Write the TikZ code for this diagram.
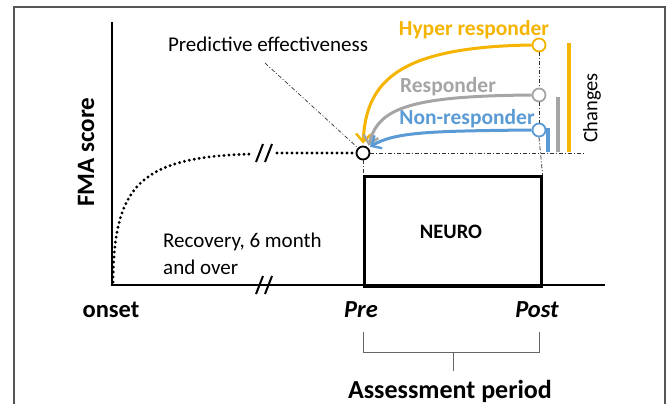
\documentclass[tikz,border=0pt]{standalone}
\usepackage{fontspec}
\setmainfont{Carlito}
\usetikzlibrary{arrows.meta}
\definecolor{hyperc}{HTML}{F5B400}
\definecolor{respc}{HTML}{A5A5A5}
\definecolor{nonc}{HTML}{5B9BD5}
\definecolor{framec}{HTML}{555555}
\tikzset{
  axisline/.style={line width=2.2pt,black},
  dashdot/.style={line width=0.8pt,dash pattern=on 4pt off 2pt on 1pt off 2pt,black!80},
  dotcurve/.style={line width=3.2pt,line cap=round,dash pattern=on 0pt off 5pt},
  ptcircle/.style={circle,draw,line width=1.8pt,fill=white,minimum size=13pt,inner sep=0pt},
  resparrow/.style={line width=3pt,-{Straight Barb[length=8pt,width=15pt,line width=2.4pt]},shorten >=2pt},
  bar/.style={line width=3.2pt},
  lbl/.style={font=\fontsize{21}{24}\selectfont,inner sep=0pt},
  blbl/.style={font=\fontsize{21.5}{24}\selectfont\bfseries,inner sep=0pt},
  axlbl/.style={font=\fontsize{24.5}{28}\selectfont\bfseries,inner sep=0pt},
  brk/.style={line width=2pt},
  bracketline/.style={line width=1pt,black!60}
}
\begin{document}
\begin{tikzpicture}[x=1pt,y=-1pt]
\useasboundingbox (0,0) rectangle (669,404);
\begin{scope}
\clip (0,0) rectangle (669,404);
\draw[framec,line width=1.2pt] (14,7) rectangle (665,430);
\end{scope}
% axes
\coordinate (origin) at (112,285);
\coordinate (ytop) at (112,22);
\coordinate (xend) at (605,285);
\draw[axisline] (ytop) -- (origin) -- (xend);
% axis break
\draw[brk] (256,294) -- (263,276) (265,294) -- (272,276);
% box
\node[draw,line width=2.6pt,minimum width=177pt,minimum height=110pt,anchor=north west,inner sep=0pt] (box) at (363,175) {};
\node[font=\fontsize{20.5}{24}\selectfont\bfseries,inner sep=0pt] (neuro) at (451,232) {NEURO};
% points
\node[ptcircle] (pre) at (363,153) {};
\node[ptcircle,draw=hyperc] (hyp) at (539,45) {};
\node[ptcircle,draw=respc] (resp) at (539,95) {};
\node[ptcircle,draw=nonc] (non) at (539,130) {};
% dash-dot lines
\coordinate (hend) at (585,153);
\draw[dashdot] (pre.east) -- (hend);
\draw[dashdot] (pre.south) -- (box.north west);
\draw[dashdot] (hyp.south) -- (resp.north);
\draw[dashdot] (resp.south) -- (non.north);
\draw[dashdot] (non.south) -- (box.north east);
% dotted recovery curve
\coordinate (c0) at (113,282);
\coordinate (c1) at (252,154);
\coordinate (c2) at (277,153);
\draw[dotcurve] (c0) .. controls (114,185) and (140,157) .. (c1);
\draw[dotcurve] (c2) -- (pre.west);
\draw[brk] (256,162) -- (263,144) (265,162) -- (272,144);
% predictive effectiveness
\node[lbl] (pred) at (268,44) {Predictive effectiveness};
\coordinate (predstart) at (265,63);
\draw[dashdot,line width=0.7pt] (predstart) -- (pre.north west);
% arrows
\draw[resparrow,hyperc] (hyp.west) .. controls (400,47) and (366,80) .. (pre.north);
\draw[resparrow,respc] (resp.west) .. controls (410,96) and (378,108) .. (pre.north east);
\draw[resparrow,nonc] (non.west) .. controls (430,131) and (395,132) .. (pre.north east);
% labels
\node[blbl,text=hyperc] (hl) at (474,30) {Hyper responder};
\node[blbl,text=respc] (rl) at (448,87) {Responder};
\node[blbl,text=nonc] (nl) at (467,119) {Non-responder};
% change bars
\draw[bar,nonc] (548,152) -- (548,128);
\draw[bar,respc] (558,152) -- (558,97);
\draw[bar,hyperc] (569,152) -- (569,43);
\node[font=\fontsize{20.5}{24}\selectfont,inner sep=0pt,rotate=90] (chg) at (592,108) {Changes};
% y label
\node[font=\fontsize{25}{28}\selectfont\bfseries,inner sep=0pt,rotate=90] (fma) at (86,152) {FMA score};
% recovery text
\node[align=left,anchor=west,inner sep=0pt,font=\fontsize{21}{27}\selectfont] (rec) at (163,254) {Recovery, 6 month\\and over};
% x labels
\node[axlbl] (onset) at (111,310) {onset};
\node[axlbl,font=\fontsize{24.5}{28}\selectfont\bfseries\itshape] (prel) at (361,310) {Pre};
\node[axlbl,font=\fontsize{24.5}{28}\selectfont\bfseries\itshape] (postl) at (537,310) {Post};
% bracket
\coordinate (b1) at (363,332);
\coordinate (b2) at (363,352);
\coordinate (b3) at (539,352);
\coordinate (b4) at (539,332);
\coordinate (bm) at (453,352);
\coordinate (bt) at (453,371);
\draw[bracketline] (b1) -- (b2) -- (b3) -- (b4);
\draw[bracketline] (bm) -- (bt);
\node[font=\fontsize{26}{30}\selectfont\bfseries,inner sep=0pt] (assess) at (450,391) {Assessment period};
\end{tikzpicture}
\end{document}
